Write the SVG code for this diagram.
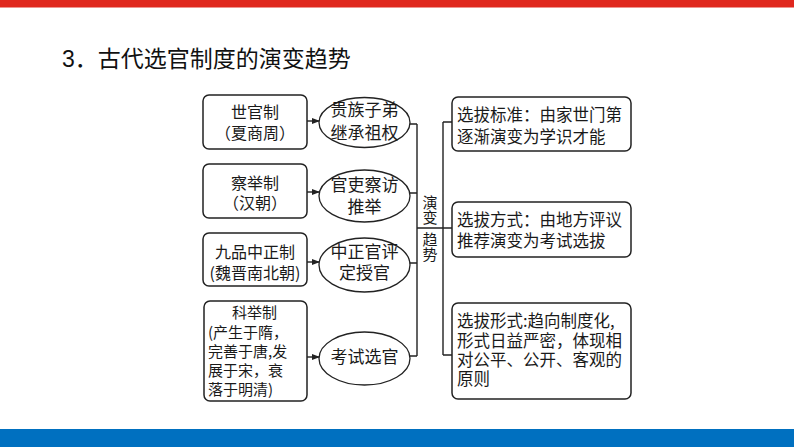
<svg xmlns="http://www.w3.org/2000/svg" width="794" height="447" viewBox="0 0 794 447">
<style>
.bx{fill:#fff;stroke:#222;stroke-width:1.5}
.el{fill:#fff;stroke:#222;stroke-width:1.3}
.ln{fill:none;stroke:#222;stroke-width:1.4}
.t{font-family:"Noto Sans CJK SC","Noto Sans CJK TC",sans-serif;font-size:16px;fill:#1a1a1a}
.s{font-size:15px}
.r{font-size:16.5px}
.e{font-size:17px}
.c{text-anchor:middle}
.v{writing-mode:tb;font-size:15px}
.ttl{font-family:"Liberation Sans","Noto Sans CJK SC",sans-serif;font-size:23px;fill:#111}
</style>
<defs>
<marker id="ah" markerWidth="8" markerHeight="6" refX="7" refY="3" orient="auto" markerUnits="userSpaceOnUse">
<path d="M0,0 L8,3 L0,6 Z" fill="#222"/>
</marker>
</defs>
<rect x="0" y="0" width="794" height="7.5" fill="#E0281E"/>
<rect x="0" y="429" width="794" height="18" fill="#0070C0"/>
<text class="ttl" x="62" y="67">3．<tspan font-family="Noto Sans CJK SC,sans-serif">古代选官制度的演变趋势</tspan></text>

<g id="connectors">
<line class="ln" x1="307" y1="121" x2="319" y2="121" marker-end="url(#ah)"/>
<line class="ln" x1="307" y1="192" x2="319" y2="192" marker-end="url(#ah)"/>
<line class="ln" x1="307" y1="262" x2="319" y2="262" marker-end="url(#ah)"/>
<line class="ln" x1="307" y1="357" x2="319" y2="357" marker-end="url(#ah)"/>
<path class="ln" d="M410,124 H417 M409,193 H417 M409,263 H417 M410,356 H417 M417,124 V356 M417,228 H443 M443,122 V355 M443,122 H452 M443,228 H452 M443,355 H452"/>
</g>

<g id="n-shiguan">
<rect class="bx" x="203" y="95" width="104" height="54" rx="6"/>
<text class="t c" x="255" y="118">世官制<tspan x="255" y="139">（夏商周）</tspan></text>
</g>
<g id="n-chaju">
<rect class="bx" x="203" y="164" width="104" height="54" rx="6"/>
<text class="t c" x="255" y="189">察举制<tspan x="255" y="209">（汉朝）</tspan></text>
</g>
<g id="n-jiupin">
<rect class="bx" x="203" y="233" width="104" height="53" rx="6"/>
<text class="t c" x="255" y="258">九品中正制<tspan x="255" y="279">(魏晋南北朝)</tspan></text>
</g>
<g id="n-keju">
<rect class="bx" x="204" y="301" width="103" height="100" rx="6"/>
<text class="t s" x="232" y="318">科举制<tspan x="208" y="338">(产生于隋，</tspan><tspan x="208" y="357">完善于唐,发</tspan><tspan x="208" y="376">展于宋，衰</tspan><tspan x="208" y="395">落于明清)</tspan></text>
</g>

<g id="e-guizu">
<ellipse class="el" cx="364.5" cy="122.5" rx="45.5" ry="25"/>
<text class="t e c" x="364.5" y="116">贵族子弟<tspan x="364.5" y="139">继承祖权</tspan></text>
</g>
<g id="e-guanli">
<ellipse class="el" cx="364.5" cy="196" rx="45.5" ry="26"/>
<text class="t e c" x="364.5" y="191">官吏察访<tspan x="364.5" y="213">推举</tspan></text>
</g>
<g id="e-zhongzheng">
<ellipse class="el" cx="364.5" cy="265" rx="45.5" ry="27"/>
<text class="t e c" x="364.5" y="258">中正官评<tspan x="364.5" y="279">定授官</tspan></text>
</g>
<g id="e-kaoshi">
<ellipse class="el" cx="364.5" cy="358.5" rx="45.5" ry="26.5"/>
<text class="t e c" x="364.5" y="363">考试选官</text>
</g>

<g id="n-trend">
<text class="t v" x="430" y="195">演变</text>
<text class="t v" x="430" y="232">趋势</text>
</g>

<g id="r-biaozhun">
<rect class="bx" x="452" y="97" width="179" height="54" rx="6"/>
<text class="t r" x="457" y="121">选拔标准：由家世门第<tspan x="457" y="143">逐渐演变为学识才能</tspan></text>
</g>
<g id="r-fangshi">
<rect class="bx" x="452" y="202" width="179" height="55" rx="6"/>
<text class="t r" x="457" y="226">选拔方式：由地方评议<tspan x="457" y="247">推荐演变为考试选拔</tspan></text>
</g>
<g id="r-xingshi">
<rect class="bx" x="452" y="303" width="179" height="96" rx="6"/>
<text class="t r" x="457" y="327">选拔形式:趋向制度化,<tspan x="457" y="347">形式日益严密，体现相</tspan><tspan x="457" y="366">对公平、公开、客观的</tspan><tspan x="457" y="385">原则</tspan></text>
</g>
</svg>
